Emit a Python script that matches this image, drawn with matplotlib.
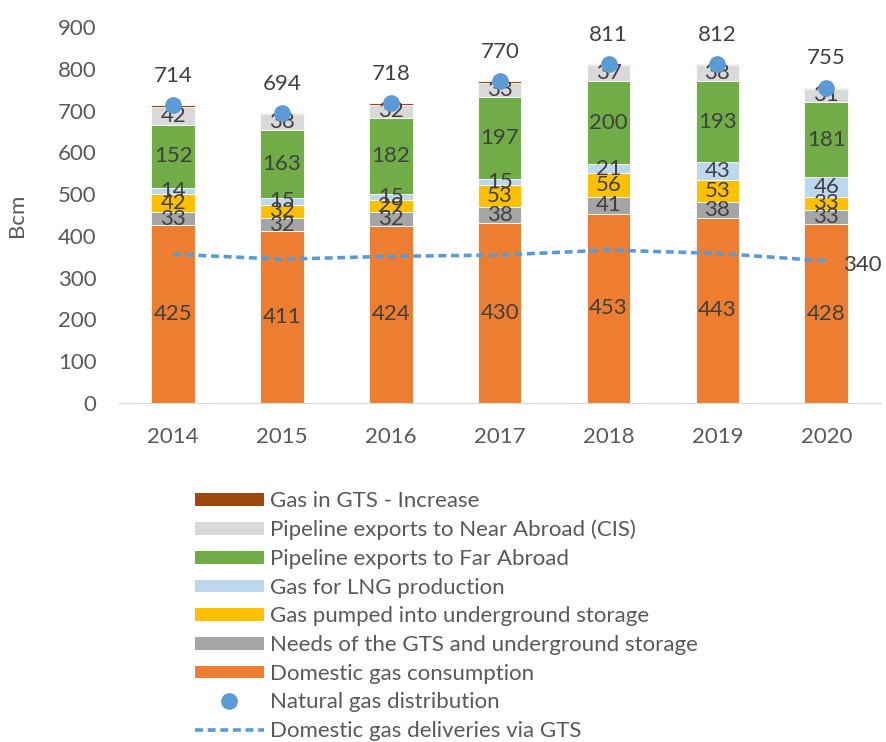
import matplotlib

matplotlib.use("Agg")
import matplotlib.pyplot as plt
from matplotlib.lines import Line2D
from matplotlib.patches import Patch

plt.rcParams["font.family"] = ["Lato", "DejaVu Sans"]

years = ["2014", "2015", "2016", "2017", "2018", "2019", "2020"]

domestic = [425, 411, 424, 430, 453, 443, 428]
gts_needs = [33, 32, 32, 38, 41, 38, 33]
pumped = [42, 32, 29, 53, 56, 53, 33]
lng = [14, 15, 15, 15, 21, 43, 46]
far_abroad = [152, 163, 182, 197, 200, 193, 181]
near_abroad = [42, 38, 32, 33, 37, 38, 31]
gts_increase = [6, 3, 4, 4, 3, 4, 3]

distribution = [714, 694, 718, 770, 811, 812, 755]
deliveries_gts = [356, 344, 351, 354, 366, 358, 340]

series = [
    ("Domestic gas consumption", domestic, "#ED7D31", True),
    ("Needs of the GTS and underground storage", gts_needs, "#A5A5A5", True),
    ("Gas pumped into underground storage", pumped, "#FFC000", True),
    ("Gas for LNG production", lng, "#BDD7EE", True),
    ("Pipeline exports to Far Abroad", far_abroad, "#70AD47", True),
    ("Pipeline exports to Near Abroad (CIS)", near_abroad, "#D9D9D9", True),
    ("Gas in GTS - Increase", gts_increase, "#9E480E", False),
]

TXT = "#404040"
BLUE = "#5B9BD5"
FS = 16

fig = plt.figure(figsize=(8.86, 7.42), dpi=100)
ax = fig.add_axes([0.134, 0.457, 0.86, 0.5066])

x = list(range(len(years)))
bottom = [0] * len(years)
for name, vals, color, labelled in series:
    ax.bar(x, vals, width=0.4, bottom=bottom, color=color, edgecolor="white",
           linewidth=0.6, zorder=2)
    if labelled:
        for xi, b, v in zip(x, bottom, vals):
            ax.text(xi, b + v / 2, str(v), ha="center", va="center",
                    fontsize=FS, color=TXT, zorder=4)
    bottom = [b + v for b, v in zip(bottom, vals)]

ax.plot(x, deliveries_gts, color=BLUE, linewidth=2.6, linestyle=(0, (2.2, 1.3)),
        zorder=3)
ax.annotate(str(deliveries_gts[-1]), (x[-1], deliveries_gts[-1]),
            xytext=(12, -3), textcoords="offset points", ha="left", va="center",
            fontsize=FS, color=TXT)

ax.plot(x, distribution, linestyle="none", marker="o", markersize=11,
        color=BLUE, zorder=5)
for xi, v in zip(x, distribution):
    ax.annotate(str(v), (xi, v), xytext=(0, 21), textcoords="offset points",
                ha="center", va="center", fontsize=FS, color=TXT)

ax.set_xlim(-0.5, len(years) - 0.5)
ax.set_ylim(0, 900)
ax.set_yticks(range(0, 901, 100))
ax.set_xticks(x)
ax.set_xticklabels(years)
ax.tick_params(length=0, labelsize=FS, colors="#595959")
ax.tick_params(axis="y", pad=16)
ax.tick_params(axis="x", pad=17)
for side in ("top", "right", "left"):
    ax.spines[side].set_visible(False)
ax.spines["bottom"].set_color("#D9D9D9")
ax.set_ylabel("Bcm", fontsize=FS, color="#595959")
ax.yaxis.set_label_coords(-0.12, 0.5)

handles = [Patch(facecolor=c, label=n) for n, _, c, _ in reversed(series)]
handles.append(Line2D([], [], linestyle="none", marker="o", markersize=11,
                      color=BLUE, label="Natural gas distribution"))
handles.append(Line2D([], [], color=BLUE, linewidth=2.6, linestyle=(0, (2.2, 1.3)),
                      label="Domestic gas deliveries via GTS"))
leg = fig.legend(handles=handles, loc="upper left", bbox_to_anchor=(0.22, 0.338),
                 frameon=False, fontsize=FS, handlelength=3.1, handleheight=0.5,
                 handletextpad=0.28, labelspacing=0.39, borderpad=0, borderaxespad=0)
for t in leg.get_texts():
    t.set_color("#595959")

fig.savefig("out.png", dpi=100)
